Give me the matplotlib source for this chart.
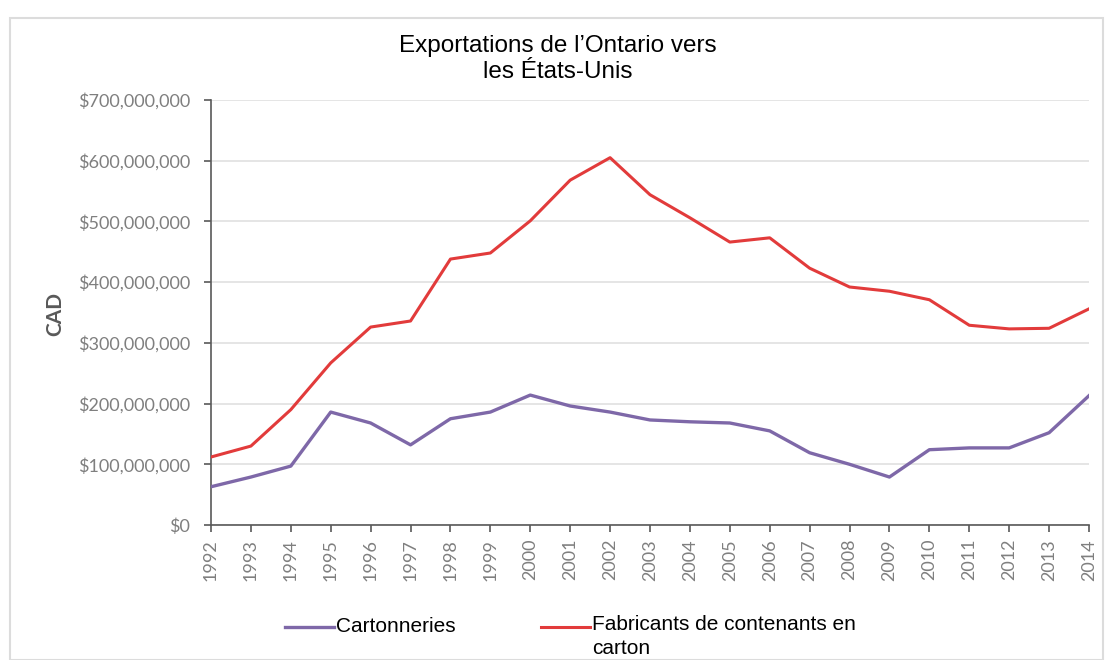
import matplotlib
matplotlib.use("Agg")
import matplotlib.pyplot as plt
from matplotlib.lines import Line2D
from matplotlib.patches import Rectangle
from matplotlib.ticker import FuncFormatter

# Ontario exports to the US, CAD
years = list(range(1992, 2015))
cartonneries = [63e6, 79e6, 97e6, 186e6, 168e6, 132e6, 175e6, 186e6, 214e6, 196e6,
                186e6, 173e6, 170e6, 168e6, 155e6, 119e6, 100e6, 79e6, 124e6, 127e6,
                127e6, 152e6, 213e6]
contenants = [112e6, 130e6, 190e6, 267e6, 326e6, 336e6, 438e6, 448e6, 501e6, 568e6,
              605e6, 544e6, 506e6, 466e6, 473e6, 423e6, 392e6, 385e6, 371e6, 329e6,
              323e6, 324e6, 356e6]
series_names = ["Cartonneries", "Fabricants de contenants en\ncarton"]
title = "Exportations de l\u2019Ontario vers\nles \u00c9tats-Unis"

purple = "#7e68a8"
red = "#e23b3b"
axis_grey = "#595959"
label_grey = "#7f7f7f"

fig = plt.figure(figsize=(11.05, 6.6), dpi=100)
fig.patch.set_facecolor("white")

# light frame round the whole chart
fig.add_artist(Rectangle((10 / 1105, 0), 1093 / 1105, 1 - 18 / 660,
                         transform=fig.transFigure, fill=False,
                         edgecolor="#dcdcdc", linewidth=1.5))

ax = fig.add_axes([211 / 1105, 1 - 525 / 660, 878 / 1105, 425 / 660])
ax.plot(years, cartonneries, color=purple, linewidth=2.4, zorder=3)
ax.plot(years, contenants, color=red, linewidth=2.2, zorder=3)

ax.set_xlim(1992, 2014)
ax.set_ylim(0, 700e6)
ax.set_xticks(years)
ax.set_xticklabels([str(y) for y in years], rotation=90,
                   fontsize=13, color=label_grey, family="Lato")
ax.set_yticks([i * 100e6 for i in range(8)])
ax.yaxis.set_major_formatter(FuncFormatter(lambda v, p: "${:,.0f}".format(v)))
for lab in ax.get_yticklabels():
    lab.set_fontsize(13)
    lab.set_color(label_grey)
    lab.set_family("Lato")

ax.grid(axis="y", color="#e3e3e3", linewidth=1.3)
ax.set_axisbelow(True)
for side in ["top", "right"]:
    ax.spines[side].set_visible(False)
for side in ["left", "bottom"]:
    ax.spines[side].set_color(axis_grey)
    ax.spines[side].set_linewidth(1.2)
ax.tick_params(axis="both", direction="out", length=5, width=1.2,
               color=axis_grey)
ax.tick_params(axis="y", pad=10)
ax.tick_params(axis="x", pad=5)

fig.text(55 / 1105, 1 - 314 / 660, "CAD", rotation=90, ha="center", va="center",
         fontsize=15, fontweight="bold", color=axis_grey, family="Lato")

# title sits on a white box that hides the top gridline
fig.text(558 / 1105, 1 - 59 / 660, title, ha="center", va="center",
         fontsize=17.5, color="black", family="Liberation Sans", linespacing=1.18,
         bbox=dict(facecolor="white", edgecolor="none", pad=9))

# legend below the plot
legend_y = 1 - 627 / 660
fig.add_artist(Line2D([285 / 1105, 334 / 1105], [legend_y, legend_y],
                      color=purple, linewidth=2.4, transform=fig.transFigure))
fig.text(336 / 1105, legend_y, series_names[0], ha="left", va="center",
         fontsize=15, color="black", family="Liberation Sans")
fig.add_artist(Line2D([541 / 1105, 590 / 1105], [legend_y, legend_y],
                      color=red, linewidth=2.2, transform=fig.transFigure))
fig.text(592 / 1105, legend_y + 12 / 660, series_names[1], ha="left", va="top",
         fontsize=15, color="black", family="Liberation Sans", linespacing=1.3)

fig.savefig("out.png", dpi=100)
